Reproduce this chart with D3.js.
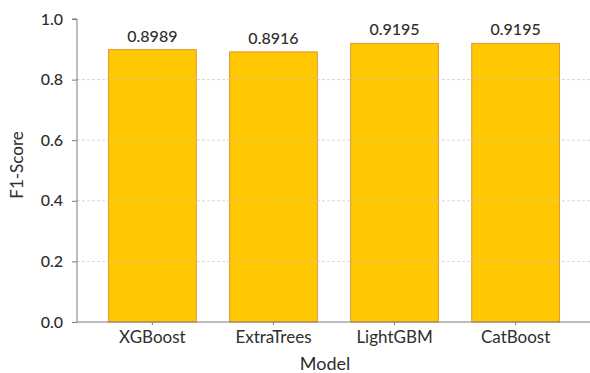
<!DOCTYPE html>
<html>
<head>
<meta charset="utf-8">
<script src="https://cdn.jsdelivr.net/npm/d3@7/dist/d3.min.js"></script>
<style>
  html, body { margin: 0; padding: 0; background: #fff; }
  svg { display: block; font-family: Lato, "Open Sans", sans-serif; }
</style>
</head>
<body>
<svg id="chart" width="590" height="373"></svg>
<script>
// F1-score per model
const models = ["XGBoost", "ExtraTrees", "LightGBM", "CatBoost"];
const f1Scores = [0.8989, 0.8916, 0.9195, 0.9195];
const yTicks = [0.0, 0.2, 0.4, 0.6, 0.8, 1.0];

const svg = d3.select("#chart");
const plotLeft = 77, plotRight = 591, plotTop = 19, plotBottom = 322;

const x = d3.scaleBand()
  .domain(models)
  .range([plotLeft, plotRight])
  .paddingInner(0.275)
  .paddingOuter(0.26);

const y = d3.scaleLinear().domain([0, 1]).range([plotBottom, plotTop]);

const textColor = "#2e2e2e";
const axisColor = "#7a7a7a";

// bars
svg.append("g")
  .selectAll("rect")
  .data(models)
  .join("rect")
  .attr("x", d => x(d))
  .attr("y", (d, i) => y(f1Scores[i]))
  .attr("width", x.bandwidth())
  .attr("height", (d, i) => y(0) - y(f1Scores[i]))
  .attr("fill", "#ffc800")
  .attr("stroke", "#e3953a")
  .attr("stroke-width", 1);

// dashed horizontal grid, drawn over the bars
svg.append("g")
  .selectAll("line")
  .data(yTicks.filter(t => t > 0 && t < 1))
  .join("line")
  .attr("x1", plotLeft)
  .attr("x2", 590)
  .attr("y1", d => y(d))
  .attr("y2", d => y(d))
  .attr("stroke", "#c8c8c8")
  .attr("stroke-opacity", 0.7)
  .attr("stroke-dasharray", "3,2")
  .attr("stroke-width", 1);

// value labels
svg.append("g")
  .selectAll("text")
  .data(models)
  .join("text")
  .attr("x", d => x(d) + x.bandwidth() / 2)
  .attr("y", (d, i) => y(f1Scores[i]) - 8)
  .attr("text-anchor", "middle")
  .attr("fill", textColor)
  .attr("font-size", 16)
  .attr("font-weight", 500)
  .text((d, i) => f1Scores[i].toFixed(4));

// y axis
const yAxis = svg.append("g")
  .attr("transform", `translate(${plotLeft},0)`)
  .call(d3.axisLeft(y).tickValues(yTicks).tickFormat(d3.format(".1f")).tickSize(5).tickPadding(9));
yAxis.select(".domain").attr("stroke", axisColor).attr("d", `M-5,${plotTop}H0V${plotBottom}`);
yAxis.selectAll(".tick line").attr("stroke", axisColor);
yAxis.selectAll(".tick text").attr("fill", textColor).attr("font-size", 16).attr("font-weight", 500).attr("font-family", "Lato, sans-serif");

// x axis
const xAxis = svg.append("g")
  .attr("transform", `translate(0,${plotBottom})`)
  .call(d3.axisBottom(x).tickSize(3).tickPadding(6));
xAxis.select(".domain").attr("stroke", axisColor).attr("d", `M${plotLeft},0H590`);
xAxis.selectAll(".tick line").attr("stroke", axisColor);
xAxis.selectAll(".tick text").attr("fill", textColor).attr("font-size", 17).attr("font-family", "Lato, sans-serif");

// axis titles
svg.append("text")
  .attr("x", 325)
  .attr("y", 370)
  .attr("text-anchor", "middle")
  .attr("fill", textColor)
  .attr("font-size", 18)
  .text("Model");

svg.append("text")
  .attr("transform", "translate(23,165) rotate(-90)")
  .attr("text-anchor", "middle")
  .attr("fill", textColor)
  .attr("font-size", 17)
  .text("F1-Score");
</script>
</body>
</html>
